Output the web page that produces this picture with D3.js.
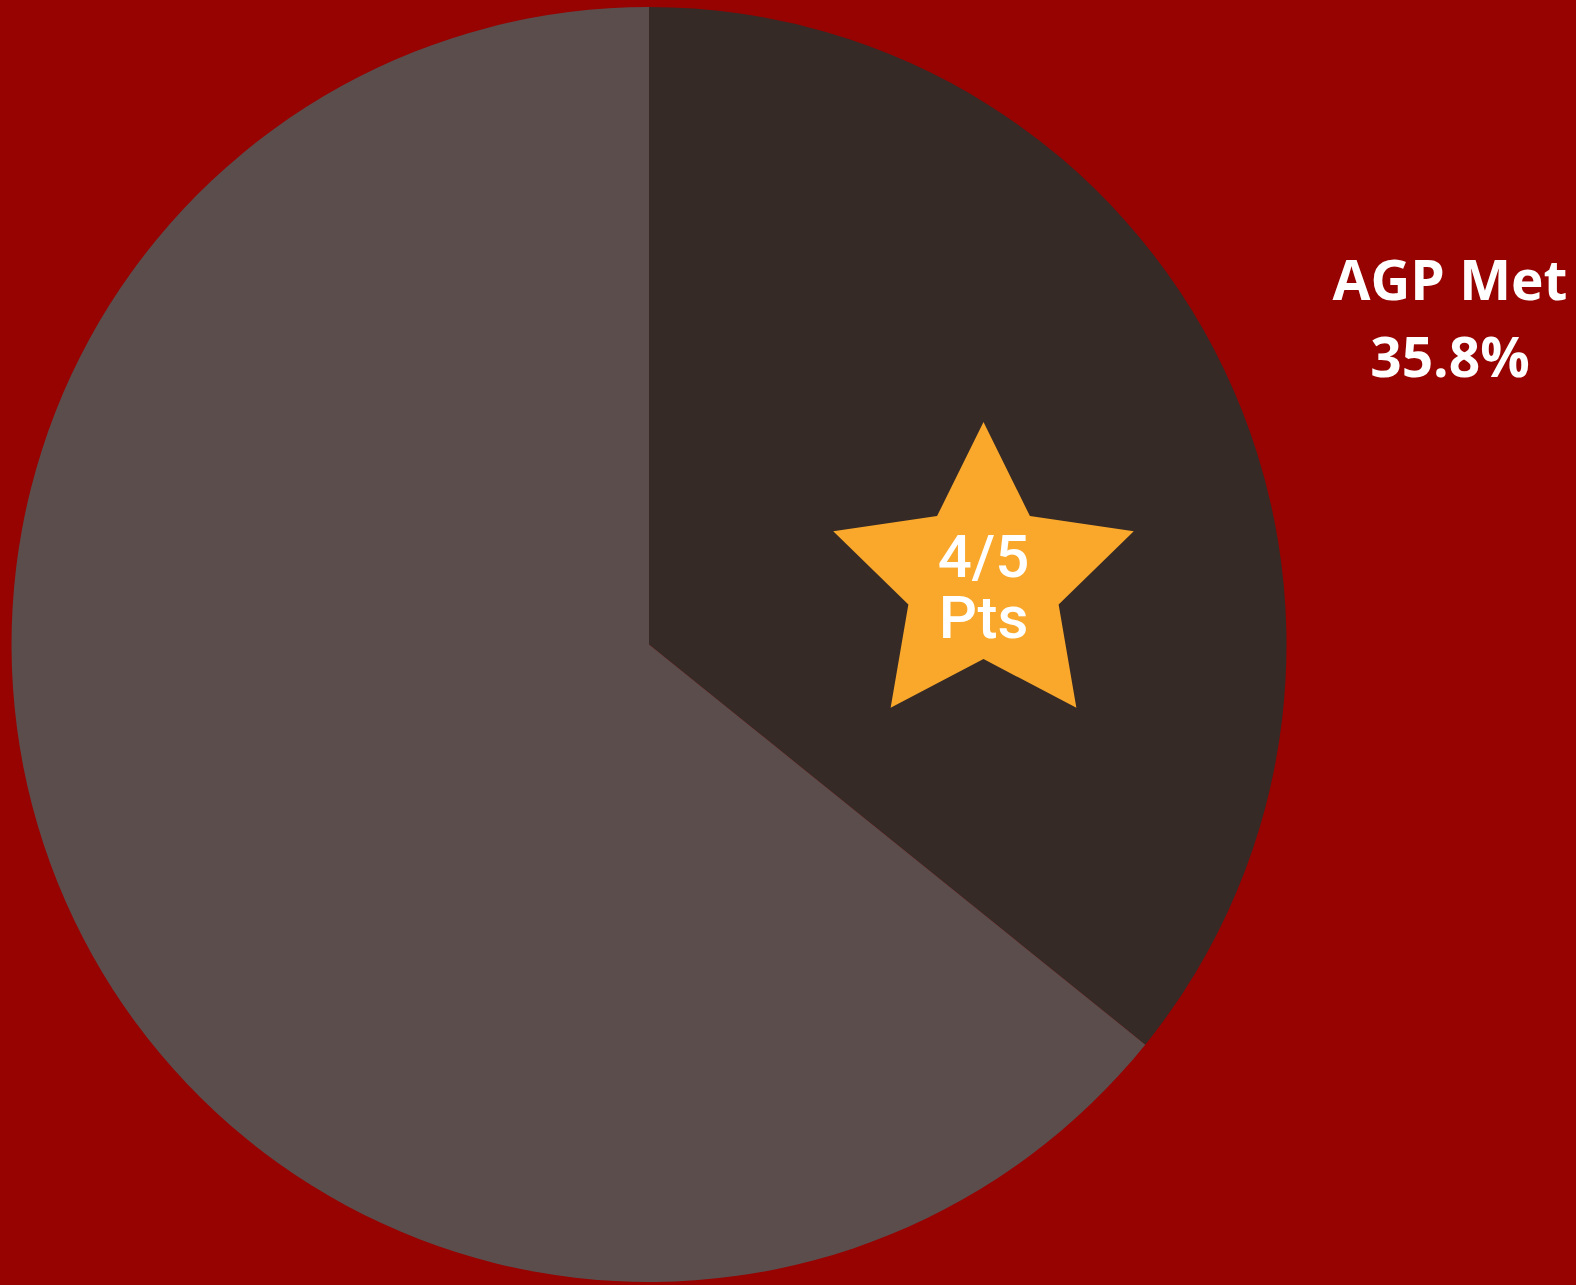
<!DOCTYPE html>
<html lang="en">
<head>
    <meta charset="utf-8">
    <title>AGP Met</title>
    <script src="https://d3js.org/d3.v7.min.js"></script>
    <style>
        html, body {
            margin: 0;
            padding: 0;
            background: #960300;
        }
        svg {
            display: block;
        }
    </style>
</head>
<body>
    <svg id="chart" width="1576" height="1285"></svg>
    <script>
        // chart values
        var categories = ["AGP Met", "AGP Not Met"];
        var values = [35.8, 64.2];
        var sliceColors = ["#362a26", "#5b4d4c"];
        var labelLines = ["AGP Met", "35.8%"];
        var starLines = ["4/5", "Pts"];

        var width = 1576, height = 1285;
        var cx = 649, cy = 644.5, radius = 637.5;

        var svg = d3.select("#chart");

        svg.append("rect")
            .attr("width", width)
            .attr("height", height)
            .attr("fill", "#960300");

        var pie = d3.pie().sort(null).value(d => d);
        var arc = d3.arc().innerRadius(0).outerRadius(radius);

        var g = svg.append("g").attr("transform", "translate(" + cx + "," + cy + ")");

        g.selectAll("path.slice")
            .data(pie(values))
            .join("path")
            .attr("class", "slice")
            .attr("d", arc)
            .attr("fill", (d, i) => sliceColors[i]);

        // outside label for the first slice
        svg.selectAll("text.label")
            .data(labelLines)
            .join("text")
            .attr("class", "label")
            .attr("x", 1450)
            .attr("y", (d, i) => 300 + i * 77)
            .attr("text-anchor", "middle")
            .attr("fill", "#ffffff")
            .style("font-family", "'Open Sans', sans-serif")
            .style("font-weight", "bold")
            .style("font-size", "55px")
            .text(d => d);

        // star badge
        var starCx = 983.5, starCy = 580, outerR = 158, innerR = 79;
        var starPts = d3.range(10).map(i => [i * Math.PI / 5, i % 2 === 0 ? outerR : innerR]);
        var star = d3.lineRadial().curve(d3.curveLinearClosed);

        svg.append("path")
            .attr("transform", "translate(" + starCx + "," + starCy + ")")
            .attr("d", star(starPts))
            .attr("fill", "#f9a82b");

        svg.selectAll("text.star")
            .data(starLines)
            .join("text")
            .attr("class", "star")
            .attr("x", starCx)
            .attr("y", (d, i) => 577 + i * 61)
            .attr("text-anchor", "middle")
            .attr("fill", "#ffffff")
            .style("font-family", "Roboto, sans-serif")
            .style("font-weight", "500")
            .style("font-size", "60px")
            .text(d => d);
    </script>
</body>
</html>
